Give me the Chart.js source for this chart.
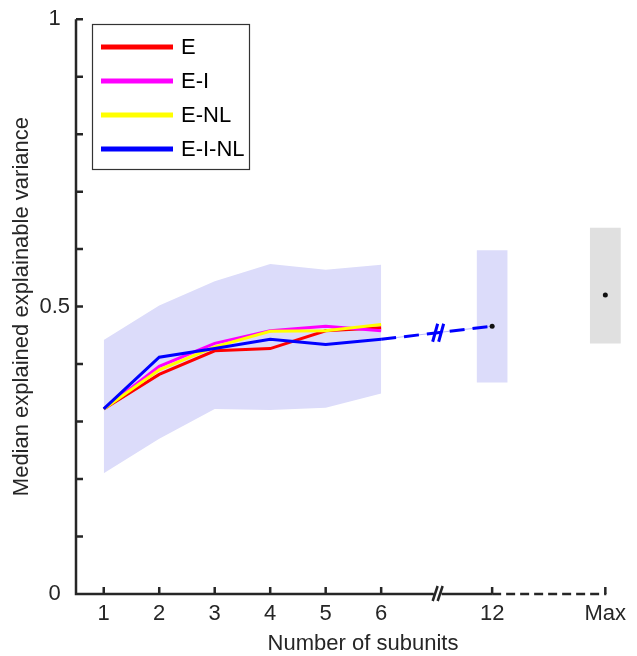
<!DOCTYPE html>
<html>
<head>
<meta charset="utf-8">
<script src="https://cdn.jsdelivr.net/npm/chart.js@4.4.1/dist/chart.umd.min.js"></script>
<style>
  html, body { margin: 0; padding: 0; background: #fff; }
</style>
</head>
<body>
<canvas id="chart" width="637" height="656"></canvas>
<script>
// values
const subunits = [1, 2, 3, 4, 5, 6];
const seriesNames = ['E', 'E-I', 'E-NL', 'E-I-NL'];
const seriesColors = ['#ff0000', '#ff00ff', '#ffff00', '#0000ff'];
const medE = [0.322, 0.382, 0.423, 0.427, 0.458, 0.463];
const medEI = [0.322, 0.396, 0.436, 0.458, 0.466, 0.458];
const medENL = [0.322, 0.390, 0.430, 0.457, 0.458, 0.469];
const medEINL = [0.322, 0.412, 0.427, 0.443, 0.434, 0.443];
const bandHigh = [0.442, 0.502, 0.544, 0.574, 0.564, 0.573];
const bandLow = [0.210, 0.270, 0.322, 0.320, 0.324, 0.349];

const extraLabels = ['12', 'Max'];
const extraPos = [8, 10.04];
const extraMedian = [0.466, 0.520];
const extraLow = [0.368, 0.436];
const extraHigh = [0.598, 0.637];

const xTickPos = [1, 2, 3, 4, 5, 6, 8, 10.04];
const xTickLabels = ['1', '2', '3', '4', '5', '6', '12', 'Max'];
const breakPos = 7;

const FONT = '"Liberation Sans", Arial, sans-serif';
const INK = '#262626';
const BAND = '#dcdcfa';
const GREY = '#e0e0e0';
const halfW = 0.28;

const pts = (xs, ys) => xs.map((x, i) => ({ x: x, y: ys[i] }));
const seg = (x, y) => [{ x: x - halfW, y: y }, { x: x + halfW, y: y }];

const seriesValues = [medE, medEI, medENL, medEINL];

const datasets = [];
// shaded band for 1..6
datasets.push({ data: pts(subunits, bandLow), borderWidth: 0, pointRadius: 0, fill: false, order: 20 });
datasets.push({ data: pts(subunits, bandHigh), borderWidth: 0, pointRadius: 0, fill: '-1', backgroundColor: BAND, order: 20 });
// boxes at 12 and Max
datasets.push({ data: seg(extraPos[0], extraLow[0]), borderWidth: 0, pointRadius: 0, fill: false, order: 20 });
datasets.push({ data: seg(extraPos[0], extraHigh[0]), borderWidth: 0, pointRadius: 0, fill: '-1', backgroundColor: BAND, order: 20 });
datasets.push({ data: seg(extraPos[1], extraLow[1]), borderWidth: 0, pointRadius: 0, fill: false, order: 20 });
datasets.push({ data: seg(extraPos[1], extraHigh[1]), borderWidth: 0, pointRadius: 0, fill: '-1', backgroundColor: GREY, order: 20 });
// dashed link 6 -> 12
const linkData = [{ x: 6, y: medEINL[5] }, { x: extraPos[0], y: extraMedian[0] }];
datasets.push({ data: linkData, borderColor: 'rgba(140,140,255,0.6)', borderWidth: 1, pointRadius: 0, fill: false, order: 9 });
datasets.push({ data: linkData, borderColor: '#0000ff', borderWidth: 3, borderDash: [15, 8], pointRadius: 0, fill: false, order: 8 });
// median dots
datasets.push({ data: pts(extraPos, extraMedian), showLine: false, pointRadius: 2.5, pointBackgroundColor: '#111', pointBorderWidth: 0, order: 0 });
// the four model lines, blue on top
seriesValues.forEach((vals, i) => {
  datasets.push({
    label: seriesNames[i],
    data: pts(subunits, vals),
    borderColor: seriesColors[i],
    borderWidth: 3,
    pointRadius: 0,
    fill: false,
    tension: 0,
    order: 4 - i
  });
});
datasets.forEach(d => { d.clip = false; });

const axesPlugin = {
  id: 'axes',
  afterDraw(chart) {
    const ctx = chart.ctx;
    const xs = chart.scales.x, ys = chart.scales.y;
    const x0 = chart.chartArea.left;
    const y0 = ys.getPixelForValue(0);
    const y1 = ys.getPixelForValue(1);
    const bx = xs.getPixelForValue(breakPos);
    const x12 = xs.getPixelForValue(extraPos[0]);
    const xMax = xs.getPixelForValue(extraPos[1]);
    ctx.save();
    ctx.strokeStyle = INK;
    ctx.lineWidth = 2.5;
    ctx.lineCap = 'butt';
    // y axis + inward ticks
    ctx.beginPath();
    ctx.moveTo(x0, y1); ctx.lineTo(x0, y0 + 1.2);
    ys.ticks.forEach(t => {
      const py = ys.getPixelForValue(t.value);
      ctx.moveTo(x0, py); ctx.lineTo(x0 + 7, py);
    });
    // x axis, solid part with break
    ctx.moveTo(x0 - 1.2, y0); ctx.lineTo(bx - 3, y0);
    ctx.moveTo(bx + 5, y0); ctx.lineTo(x12, y0);
    xTickPos.forEach(v => {
      const px = xs.getPixelForValue(v);
      ctx.moveTo(px, y0); ctx.lineTo(px, y0 - 7);
    });
    // break slashes on the axis
    ctx.moveTo(bx - 4, y0 + 7); ctx.lineTo(bx + 1, y0 - 8);
    ctx.moveTo(bx + 1, y0 + 7); ctx.lineTo(bx + 6, y0 - 8);
    ctx.stroke();
    // dashed part 12 -> Max
    ctx.beginPath();
    ctx.setLineDash([9, 5]);
    ctx.moveTo(x12, y0); ctx.lineTo(xMax + 1, y0);
    ctx.stroke();
    ctx.setLineDash([]);
    // break slashes on the dashed data link
    const yb = ys.getPixelForValue((medEINL[5] + extraMedian[0]) / 2);
    ctx.strokeStyle = '#0000ff';
    ctx.lineWidth = 3;
    ctx.beginPath();
    ctx.moveTo(bx - 4, yb + 9); ctx.lineTo(bx + 1, yb - 9);
    ctx.moveTo(bx + 2, yb + 9); ctx.lineTo(bx + 7, yb - 9);
    ctx.stroke();

    // x axis title
    ctx.fillStyle = INK;
    ctx.font = '22px ' + FONT;
    ctx.textAlign = 'center';
    ctx.textBaseline = 'alphabetic';
    ctx.fillText('Number of subunits', 363, 650);

    // legend
    const lx = 92.5, ly = 24.5, lw = 157, lh = 145;
    ctx.fillStyle = '#fff';
    ctx.fillRect(lx, ly, lw, lh);
    ctx.strokeStyle = '#333';
    ctx.lineWidth = 1.2;
    ctx.strokeRect(lx, ly, lw, lh);
    ctx.font = '22px ' + FONT;
    ctx.textAlign = 'left';
    ctx.textBaseline = 'middle';
    seriesNames.forEach((name, i) => {
      const ry = 47 + 34 * i;
      ctx.strokeStyle = seriesColors[i];
      ctx.lineWidth = 5;
      ctx.beginPath();
      ctx.moveTo(101, ry); ctx.lineTo(173, ry);
      ctx.stroke();
      ctx.fillStyle = '#000';
      ctx.fillText(name, 181, ry + 1);
    });
    ctx.restore();
  }
};

new Chart(document.getElementById('chart'), {
  type: 'line',
  data: { datasets: datasets },
  plugins: [axesPlugin],
  options: {
    responsive: false,
    animation: false,
    devicePixelRatio: 1,
    layout: { padding: { top: 15, right: 11.7, left: 0, bottom: 0 } },
    plugins: { legend: { display: false }, tooltip: { enabled: false } },
    scales: {
      x: {
        type: 'linear',
        min: 0.5,
        max: 10.4,
        grid: { display: false, drawTicks: false },
        border: { display: false },
        afterBuildTicks: s => { s.ticks = xTickPos.map(v => ({ value: v })); },
        afterFit: s => { s.height = 62; },
        ticks: {
          autoSkip: false,
          maxRotation: 0,
          padding: 7,
          color: INK,
          font: { family: FONT, size: 22 },
          callback: v => {
            const i = xTickPos.findIndex(p => Math.abs(p - v) < 1e-6);
            return i >= 0 ? xTickLabels[i] : '';
          }
        }
      },
      y: {
        min: 0,
        max: 1,
        grid: { display: false, drawTicks: false },
        border: { display: false },
        afterFit: s => { s.width = 76; },
        title: {
          display: true,
          text: 'Median explained explainable variance',
          color: INK,
          font: { family: FONT, size: 22 },
          padding: { top: 9, bottom: 0 }
        },
        ticks: {
          stepSize: 0.1,
          crossAlign: 'center',
          padding: 6,
          color: INK,
          font: { family: FONT, size: 22 },
          callback: v => {
            if (Math.abs(v) < 1e-6) return '0';
            if (Math.abs(v - 0.5) < 1e-6) return '0.5';
            if (Math.abs(v - 1) < 1e-6) return '1';
            return '';
          }
        }
      }
    }
  }
});
</script>
</body>
</html>
